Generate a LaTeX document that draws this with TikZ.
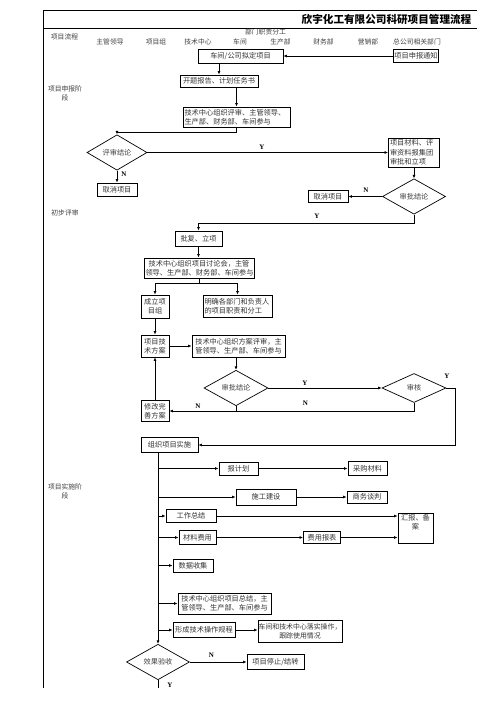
\documentclass[tikz,border=0pt]{standalone}
\usepackage{fontspec}
\setmainfont{Noto Sans CJK SC}
\newfontfamily\yesno{Liberation Serif}
\usetikzlibrary{shapes.geometric,arrows.meta}

\tikzset{
  box/.style={draw, line width=0.9pt, inner sep=1.5pt, align=center, font=\fontsize{7.2}{9.4}\selectfont, text=black!80},
  choice/.style={draw, diamond, inner sep=0pt, line width=0.7pt, font=\fontsize{7.2}{9}\selectfont, text=black!75},
  flow/.style={->, line width=0.7pt},
  yn/.style={font=\yesno\bfseries\fontsize{7}{8}\selectfont},
  head/.style={font=\fontsize{6.8}{8.6}\selectfont, text=black!75, align=center},
}

\begin{document}
\begin{tikzpicture}[x=1pt, y=-1pt, >={Latex[length=3.5pt,width=3pt]}]
  \useasboundingbox (0,0) rectangle (503,711);

  % frame and header
  \draw[line width=0.8pt] (477,10) -- (43,10) -- (43,688);
  \draw[line width=0.8pt] (43,28) -- (477,28);
  \node[font=\bfseries\fontsize{10.6}{12}\selectfont] (title) at (386.5,19) {欣宇化工有限公司科研项目管理流程};

  \node[head] (hflow) at (64.5,37) {项目流程};
  \node[head] (hlead) at (110,41.5) {主管领导};
  \node[head] (hteam) at (156,41.5) {项目组};
  \node[head] (htech) at (198,41.5) {技术中心};
  \node[head] (hshop) at (240,41.5) {车间};
  \node[head] (hduty) at (265.5,32) {部门职责分工};
  \node[head] (hprod) at (280.5,41.5) {生产部};
  \node[head] (hfin) at (323.5,41.5) {财务部};
  \node[head] (hsale) at (368,41.5) {营销部};
  \node[head] (hgroup) at (417,41.5) {总公司相关部门};

  \node[head] (phase1) at (65,93.5) {项目申报阶\\段};
  \node[head] (phase2) at (65,213) {初步评审};
  \node[head] (phase3) at (65,491.5) {项目实施阶\\段};

  % application stage
  \node[box, inner sep=1pt, minimum width=45, minimum height=13] (notify) at (416,56) {项目申报通知};
  \node[box, minimum width=85, minimum height=14] (propose) at (240.5,56) {车间/公司拟定项目};
  \node[box, align=left, minimum width=78, minimum height=12] (report) at (219,81) {开题报告、计划任务书};
  \node[box, align=left, text width=104, minimum height=20] (review1) at (236.5,117) {技术中心组织评审、主管领导、\\生产部、财务部、车间参与};
  \node[choice, minimum width=60, minimum height=30] (dec1) at (117,152.5) {评审结论};
  \node[box, align=left, text width=48, minimum height=29] (submit) at (414,152.5) {项目材料、评\\审资料报集团\\审批和立项};
  \node[box, minimum width=40, minimum height=13] (cancel1) at (117,189.5) {取消项目};
  \node[choice, minimum width=63, minimum height=29] (dec2) at (414,196.5) {审批结论};
  \node[box, minimum width=40, minimum height=12] (cancel2) at (328,196.5) {取消项目};

  \draw[flow] (notify) -- (propose);
  \draw[flow] (report.north |- propose.south) -- (report.north);
  \draw[flow] (review1.north |- report.south) -- (review1.north);
  \draw[flow] (review1.south) -- ++(0,5) -| (dec1.north);
  \draw[flow] (dec1) -- (submit);
  \node[yn] (y1) at (262,147) {Y};
  \draw[flow] (dec1) -- (cancel1);
  \node[yn] (n1) at (124,174) {N};
  \draw[flow] (submit) -- (dec2);
  \draw[flow] (dec2) -- (cancel2);
  \node[yn] (n2) at (366,190) {N};

  % preliminary review
  \node[box, minimum width=47, minimum height=15] (approve) at (198.5,238.5) {批复、立项};
  \node[box, text width=107, minimum height=20] (meeting) at (199,268) {技术中心组织项目讨论会，主管\\领导、生产部、财务部、车间参与};
  \node[box, text width=25, minimum height=23] (team) at (155,306.5) {成立项\\目组};
  \node[box, align=left, text width=66, minimum height=22] (duty) at (237.5,306) {明确各部门和负责人\\的项目职责和分工};
  \node[box, text width=25, minimum height=22] (plan) at (155,346) {项目技\\术方案};
  \node[box, text width=90, minimum height=22] (schemereview) at (238.5,346) {技术中心组织方案评审，主\\管领导、生产部、车间参与};
  \node[choice, minimum width=64, minimum height=28] (dec3) at (236,388) {审批结论};
  \node[choice, minimum width=64, minimum height=29] (audit) at (414,388) {审核};
  \node[box, text width=25, minimum height=21] (revise) at (155,411) {修改完\\善方案};
  \node[box, minimum width=57, minimum height=15] (implement) at (169.5,445) {组织项目实施};

  \draw[flow] (dec2.south) -- ++(0,9) -| (approve.north);
  \node[yn] (y2) at (317,216) {Y};
  \draw[flow] (approve.south) -- (approve.south |- meeting.north);
  \draw (meeting.south) -- ++(0,5) coordinate (split);
  \draw[flow] (split) -| (team.north);
  \draw[flow] (split) -| (duty.north);
  \draw[flow] (team) -- (plan);
  \draw[flow] (plan) -- (schemereview);
  \draw[flow] (dec3.north |- schemereview.south) -- (dec3.north);
  \draw[flow] (dec3) -- (audit);
  \node[yn] (y3) at (305,383) {Y};
  \draw[flow] (dec3.south) |- (revise.east);
  \node[yn] (n3) at (198,406) {N};
  \draw (audit.south) |- (dec3.south |- revise.east);
  \node[yn] (n4) at (305.5,403) {N};
  \draw[flow] (revise) -- (plan);
  \draw[flow] (audit.east) -- ++(9,0) |- (implement.east);
  \node[yn] (y4) at (447,376) {Y};

  % implementation stage
  \coordinate (trunk) at (158,0);
  \node[box, minimum width=39, minimum height=13] (plan2) at (238.5,468.5) {报计划};
  \node[box, minimum width=39, minimum height=14] (purchase) at (367.5,468.5) {采购材料};
  \node[box, minimum width=60, minimum height=16] (build) at (266,497) {施工建设};
  \node[box, minimum width=40, minimum height=12] (negotiate) at (367,497) {商务谈判};
  \node[box, minimum width=50, minimum height=13] (summary) at (191,516) {工作总结};
  \node[box, text width=32, minimum height=30, anchor=north] (reportfile) at (415.5,512.5) {汇报、备\\案\\[2pt]\mbox{}};
  \node[box, minimum width=37, minimum height=14] (cost) at (197.5,537.5) {材料费用};
  \node[box, minimum width=37, minimum height=12] (costsheet) at (322,537.5) {费用报表};
  \node[box, minimum width=40, minimum height=13] (collect) at (193,565.5) {数据收集};
  \node[box, text width=90, minimum height=21] (finalreview) at (224.5,603.5) {技术中心组织项目总结，主\\管领导、生产部、车间参与};
  \node[box, minimum width=62, minimum height=15] (procedure) at (204,630) {形成技术操作规程};
  \node[box, inner sep=0.5pt, text width=83, minimum height=22, font=\fontsize{6.9}{9}\selectfont] (track) at (300,631.5) {车间和技术中心落实操作，\\跟踪使用情况};
  \node[choice, minimum width=63, minimum height=29] (dec4) at (158,662) {效果验收};
  \node[box, minimum width=57, minimum height=15] (stop) at (275.5,662) {项目停止/结转};
  \coordinate (tail) at (158,688);

  \draw[flow] (trunk |- implement.south) -- (dec4.north);
  \draw[flow] (trunk |- plan2) -- (plan2);
  \draw[flow] (plan2) -- (purchase);
  \draw[flow] (trunk |- build) -- (build);
  \draw[flow] (build) -- (negotiate);
  \draw[flow] (trunk |- summary) -- (summary);
  \draw[flow] (summary) -- (summary -| reportfile.west);
  \draw[flow] (trunk |- cost) -- (cost);
  \draw[flow] (cost) -- (costsheet);
  \draw[flow] (costsheet) -- (costsheet -| reportfile.west);
  \draw[flow] (trunk |- collect) -- (collect);
  \draw[flow] (trunk |- finalreview) -- (finalreview);
  \draw[flow] (trunk |- procedure) -- (procedure);
  \draw[flow] (procedure.east) -- (procedure.east -| track.west);
  \draw[flow] (dec4) -- (stop);
  \node[yn] (n5) at (211.5,655) {N};
  \draw[line width=0.7pt] (dec4.south) -- (tail);
  \node[yn] (y5) at (170,685) {Y};
\end{tikzpicture}
\end{document}
